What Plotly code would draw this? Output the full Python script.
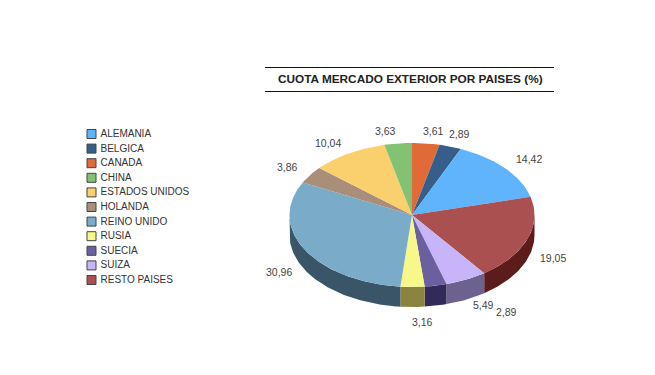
import math
import plotly.graph_objects as go

TITLE = "CUOTA MERCADO EXTERIOR POR PAISES (%)"
legend_names = ["ALEMANIA", "BELGICA", "CANADA", "CHINA", "ESTADOS UNIDOS", "HOLANDA",
                "REINO UNIDO", "RUSIA", "SUECIA", "SUIZA", "RESTO PAISES"]
shares = [14.42, 2.89, 3.61, 3.63, 10.04, 3.86, 30.96, 3.16, 2.89, 5.49, 19.05]
top_colors = ["#5fb4fb", "#355e8a", "#e06a38", "#82c272", "#fad06e", "#a98e7a",
              "#7aabc8", "#f8f88a", "#6b5f9f", "#c8b4f8", "#aa5050"]
wall_colors = ["#3a6f9c", "#20395a", "#8a4122", "#507848", "#9b8144", "#69584b",
               "#3a5568", "#8a8440", "#332a5c", "#6d6190", "#5c1c1c"]
# clockwise order of the slices starting at twelve o'clock
pie_order = ["CANADA", "BELGICA", "ALEMANIA", "RESTO PAISES", "SUIZA", "SUECIA",
             "RUSIA", "REINO UNIDO", "HOLANDA", "ESTADOS UNIDOS", "CHINA"]
# label offsets from the rim point of each slice, in pixels
label_shift = {"CANADA": (8, -12), "BELGICA": (9, -13), "ALEMANIA": (24, -9),
               "RESTO PAISES": (26, 19), "SUIZA": (17, 25), "SUECIA": (71, 26),
               "RUSIA": (10, 35), "REINO UNIDO": (-26, 22), "HOLANDA": (-23, -8),
               "ESTADOS UNIDOS": (-21, -10), "CHINA": (-13, -12)}

CX, CY, RX, RY, DEPTH = 412, 215, 122.5, 72, 20
FONT = "Liberation Sans, Arial, sans-serif"


def rim(deg, drop=0):
    t = math.radians(deg)
    return CX + RX * math.sin(t), CY - RY * math.cos(t) + drop


def arc(a, b):
    n = max(2, int(abs(b - a)) + 2)
    return [a + (b - a) * i / (n - 1) for i in range(n)]


idx = {n: i for i, n in enumerate(legend_names)}
total = sum(shares)
spans = {}
start = 0.0
for name in pie_order:
    end = start + shares[idx[name]] / total * 360
    spans[name] = (start, end)
    start = end

fig = go.Figure()

# side walls (front half only)
for name in pie_order:
    a, b = spans[name]
    lo, hi = max(a, 90), min(b, 270)
    if hi <= lo:
        continue
    upper = [rim(d) for d in arc(lo, hi)]
    lower = [rim(d, DEPTH) for d in arc(hi, lo)]
    pts = upper + lower + upper[:1]
    fig.add_trace(go.Scatter(x=[p[0] for p in pts], y=[p[1] for p in pts], mode="lines",
                             fill="toself", fillcolor=wall_colors[idx[name]],
                             line=dict(width=0), hoverinfo="skip", showlegend=False))

# top faces
for name in pie_order:
    a, b = spans[name]
    pts = [(CX, CY)] + [rim(d) for d in arc(a, b)] + [(CX, CY)]
    fig.add_trace(go.Scatter(x=[p[0] for p in pts], y=[p[1] for p in pts], mode="lines",
                             fill="toself", fillcolor=top_colors[idx[name]],
                             line=dict(width=0), name=name, hoverinfo="name", showlegend=False))

# legend column
LEG_X, LEG_Y0, LEG_STEP = 91.5, 134, 14.6
leg_y = [LEG_Y0 + i * LEG_STEP for i in range(len(legend_names))]
fig.add_trace(go.Scatter(
    x=[LEG_X] * len(legend_names), y=leg_y, mode="markers",
    marker=dict(symbol="square", size=9, color=top_colors,
                line=dict(color="#444444", width=1)),
    hoverinfo="skip", showlegend=False))
fig.add_trace(go.Scatter(
    x=[LEG_X + 9] * len(legend_names), y=[v + 0.5 for v in leg_y],
    mode="text", text=legend_names, textposition="middle right",
    textfont=dict(family=FONT, size=10, color="#333333"),
    hoverinfo="skip", showlegend=False))

# value labels
for name in pie_order:
    a, b = spans[name]
    x, y = rim((a + b) / 2)
    dx, dy = label_shift[name]
    fig.add_annotation(x=x, y=y, xshift=dx, yshift=-dy, showarrow=False,
                       text=f"{shares[idx[name]]:.2f}".replace(".", ","),
                       font=dict(family=FONT, size=10.5, color="#444444"))

fig.add_annotation(x=410, y=79, showarrow=False, text=f"<b>{TITLE}</b>",
                   font=dict(family=FONT, size=11.8, color="#222222"))
for yy in (67.5, 91.5):
    fig.add_shape(type="line", x0=265, x1=554, y0=yy, y1=yy,
                  line=dict(color="#111111", width=1))

fig.update_layout(width=655, height=375, margin=dict(l=0, r=0, t=0, b=0),
                  paper_bgcolor="white", plot_bgcolor="white", showlegend=False,
                  xaxis=dict(range=[0, 655], visible=False, fixedrange=True),
                  yaxis=dict(range=[375, 0], visible=False, fixedrange=True))
fig.write_html("out.html", config={"displayModeBar": False},
               post_script="document.body.style.margin='0';")
